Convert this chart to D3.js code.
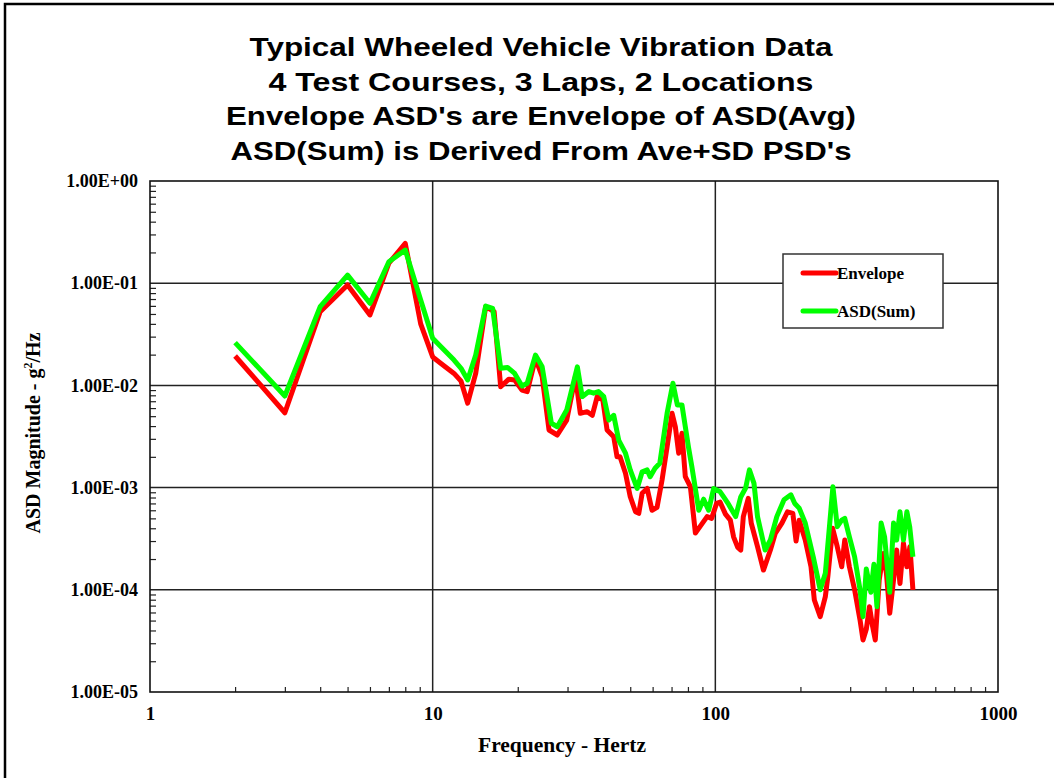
<!DOCTYPE html>
<html>
<head>
<meta charset="utf-8">
<script src="https://cdn.jsdelivr.net/npm/d3@7"></script>
<style>
  html, body { margin: 0; padding: 0; background: #fff; }
  svg { display: block; }
</style>
</head>
<body>
<svg id="chart" width="1054" height="778"></svg>
<script>
// Title lines
const titleLines = [
  "Typical Wheeled Vehicle Vibration Data",
  "4 Test Courses, 3 Laps, 2 Locations",
  "Envelope ASD's are Envelope of ASD(Avg)",
  "ASD(Sum) is Derived From Ave+SD PSD's"
];

// Axis ticks
const xTicks = [1, 10, 100, 1000];
const yTicks = [1, 1e-1, 1e-2, 1e-3, 1e-4, 1e-5];

// Envelope ASD (g^2/Hz) vs frequency (Hz)
const envFreq = [2, 3, 4, 5, 6, 7, 8, 9.07, 10, 10.7, 11.9, 12.6, 13.3, 14.2, 15.4, 16.5, 17.4, 18.6, 19.5, 20.7, 21.6, 23.1, 24.4, 25.8, 27.6, 29.8, 32, 33.3, 35.2, 36.7, 38.2, 40, 41.4, 43.7, 44.9, 46, 48.1, 50, 52.2, 53.6, 55.1, 57.4, 59.7, 62.2, 64.8, 67.5, 70.3, 72.2, 74.2, 76.2, 78.3, 81.6, 85, 88.5, 93.5, 97, 101, 104, 108.6, 113, 116, 120, 123, 125.6, 130.8, 134, 141, 148, 156.6, 163, 172, 180, 188, 193, 198, 208, 218, 224, 235, 245, 250, 260, 270, 280, 287, 298, 311, 325, 333, 342, 351, 360, 368, 380, 393, 403, 414, 427, 438, 450, 463, 476, 488, 500];
const envVal = [0.0194, 0.0054, 0.0526, 0.096, 0.0489, 0.157, 0.245, 0.040, 0.0190, 0.0164, 0.0131, 0.0110, 0.0067, 0.0131, 0.0589, 0.0526, 0.0097, 0.0115, 0.0113, 0.0090, 0.0087, 0.0184, 0.0122, 0.00366, 0.00327, 0.00458, 0.0122, 0.00533, 0.00553, 0.0051, 0.00776, 0.0072, 0.00366, 0.00315, 0.0020, 0.0020, 0.00138, 0.000815, 0.00058, 0.00056, 0.00088, 0.00098, 0.0006, 0.00064, 0.00119, 0.00251, 0.00533, 0.00394, 0.00217, 0.0034, 0.00128, 0.00102, 0.00036, 0.00042, 0.00052, 0.0005, 0.0007, 0.00072, 0.00055, 0.00048, 0.00033, 0.00026, 0.000245, 0.00052, 0.000785, 0.000448, 0.000264, 0.000156, 0.000245, 0.000357, 0.00045, 0.00058, 0.00056, 0.0003, 0.00048, 0.000307, 0.000168, 0.0000794, 0.0000546, 0.0000857, 0.000134, 0.0004, 0.000264, 0.000168, 0.000307, 0.000168, 0.0001, 0.0000507, 0.0000323, 0.000041, 0.0000684, 0.000044, 0.0000323, 0.000125, 0.000227, 0.000145, 0.0000589, 0.000125, 0.000245, 0.000115, 0.000285, 0.000168, 0.000264, 0.0001];

// ASD(Sum) (g^2/Hz) vs frequency (Hz)
const sumFreq = [2, 3, 4, 5, 6, 7, 8, 9.07, 10, 10.7, 11.9, 12.6, 13.3, 14.2, 15.4, 16.3, 17.4, 18.4, 19.5, 20.7, 21.6, 23.1, 24.4, 26.3, 27.6, 29.8, 32.5, 33.8, 35.7, 37.1, 38.6, 40.3, 42, 43.7, 45.5, 48.1, 50, 52.9, 55.1, 57.4, 58.8, 61.2, 63.6, 67.5, 70.8, 73.4, 76.2, 78.3, 80.3, 82.6, 87.4, 90.9, 94.7, 98.6, 104, 107, 111.6, 118, 123, 128, 132, 137, 141, 150, 156.6, 165, 175, 185, 191, 198, 208, 222, 235, 245, 254, 260.6, 270, 280, 287, 298, 311, 325, 333, 342, 355, 364, 373, 386, 397, 414, 427, 438, 450, 463, 476, 487, 500];
const sumVal = [0.0262, 0.00787, 0.0589, 0.120, 0.0636, 0.162, 0.211, 0.0685, 0.0289, 0.0239, 0.0177, 0.0147, 0.0113, 0.0198, 0.0598, 0.0568, 0.0147, 0.0150, 0.0131, 0.00986, 0.0105, 0.0198, 0.0152, 0.00426, 0.00394, 0.00574, 0.0152, 0.00776, 0.0087, 0.0084, 0.0087, 0.00776, 0.00458, 0.0051, 0.00292, 0.00217, 0.00149, 0.00098, 0.00143, 0.00149, 0.00128, 0.00155, 0.00173, 0.00533, 0.0105, 0.00643, 0.00643, 0.00394, 0.00251, 0.0016, 0.0006, 0.00077, 0.0006, 0.00098, 0.00091, 0.00081, 0.00068, 0.00052, 0.00081, 0.00099, 0.00149, 0.0011, 0.00052, 0.000245, 0.000307, 0.00052, 0.00076, 0.00085, 0.0007, 0.00063, 0.00045, 0.00021, 0.0001, 0.000145, 0.00045, 0.00102, 0.000415, 0.00048, 0.0005, 0.00033, 0.00021, 0.0001, 0.0000546, 0.00016, 0.0000945, 0.000178, 0.0000684, 0.00045, 0.00033, 0.0000945, 0.00045, 0.000307, 0.00058, 0.000307, 0.00058, 0.000415, 0.00021];

const seriesNames = ["Envelope", "ASD(Sum)"];
const seriesColors = ["#ff0000", "#00ff00"];

const svg = d3.select("#chart");
const serif = "'Liberation Serif', 'Times New Roman', serif";
const sans = "'Liberation Sans', Arial, sans-serif";

// outer frame
svg.append("rect")
  .attr("x", 5).attr("y", 4).attr("width", 1200).attr("height", 900)
  .attr("fill", "none").attr("stroke", "#000").attr("stroke-width", 2.5);

// titles
const titleWidths = [583, 545, 630, 621];
svg.append("g").selectAll("text").data(titleLines).join("text")
  .attr("x", 541)
  .attr("y", (d, i) => 56 + i * 34.5)
  .attr("text-anchor", "middle")
  .attr("font-family", sans)
  .attr("font-weight", "bold")
  .attr("font-size", 26)
  .attr("fill", "#000")
  .attr("textLength", (d, i) => titleWidths[i])
  .attr("lengthAdjust", "spacingAndGlyphs")
  .text(d => d);

const plotLeft = 150, plotRight = 998, plotTop = 181, plotBottom = 692;
const x = d3.scaleLog().domain([1, 1000]).range([plotLeft, plotRight]);
const y = d3.scaleLog().domain([1e-5, 1]).range([plotBottom, plotTop]);

// minor tick values
const minorX = [];
for (let e = 0; e < 3; e++) for (let m = 2; m <= 9; m++) minorX.push(m * Math.pow(10, e));
const minorY = [];
for (let e = -5; e < 0; e++) for (let m = 2; m <= 9; m++) minorY.push(m * Math.pow(10, e));

// grid lines
const grid = svg.append("g").attr("stroke", "#222").attr("stroke-width", 1.5);
grid.selectAll("line.gx").data(xTicks.slice(1, -1)).join("line")
  .attr("x1", d => x(d)).attr("x2", d => x(d)).attr("y1", plotTop).attr("y2", plotBottom);
grid.selectAll("line.gy").data(yTicks.slice(1, -1)).join("line")
  .attr("x1", plotLeft).attr("x2", plotRight).attr("y1", d => y(d)).attr("y2", d => y(d));

// minor ticks (inward)
svg.append("g").attr("transform", `translate(0,${plotBottom})`)
  .call(d3.axisBottom(x).tickValues(minorX).tickSize(-5).tickFormat(""))
  .call(g => g.select(".domain").remove())
  .call(g => g.selectAll("line").attr("stroke", "#222").attr("stroke-width", 1.2));
svg.append("g").attr("transform", `translate(${plotLeft},0)`)
  .call(d3.axisLeft(y).tickValues(minorY).tickSize(-6).tickFormat(""))
  .call(g => g.select(".domain").remove())
  .call(g => g.selectAll("line").attr("stroke", "#222").attr("stroke-width", 1.2));

// plot border
svg.append("rect")
  .attr("x", plotLeft).attr("y", plotTop)
  .attr("width", plotRight - plotLeft).attr("height", plotBottom - plotTop)
  .attr("fill", "none").attr("stroke", "#111").attr("stroke-width", 1.6);

// tick labels
const fmtY = v => {
  const e = Math.round(Math.log10(v));
  return "1.00E" + (e >= 0 ? "+" : "-") + String(Math.abs(e)).padStart(2, "0");
};
svg.append("g").attr("transform", `translate(${plotLeft},0)`)
  .call(d3.axisLeft(y).tickValues(yTicks).tickSize(0).tickPadding(12).tickFormat(fmtY))
  .call(g => g.select(".domain").remove())
  .call(g => g.selectAll("text")
    .attr("font-family", serif).attr("font-weight", "bold").attr("font-size", 18).attr("fill", "#000"));
svg.append("g").attr("transform", `translate(0,${plotBottom})`)
  .call(d3.axisBottom(x).tickValues(xTicks).tickSize(0).tickPadding(15).tickFormat(d3.format("d")))
  .call(g => g.select(".domain").remove())
  .call(g => g.selectAll("text")
    .attr("font-family", serif).attr("font-weight", "bold").attr("font-size", 19).attr("fill", "#000"));

// axis titles
svg.append("text")
  .attr("x", 562).attr("y", 752)
  .attr("text-anchor", "middle")
  .attr("font-family", serif).attr("font-weight", "bold").attr("font-size", 21)
  .attr("textLength", 168).attr("lengthAdjust", "spacingAndGlyphs")
  .text("Frequency - Hertz");

const yt = svg.append("text")
  .attr("transform", "translate(40,433) rotate(-90)")
  .attr("text-anchor", "middle")
  .attr("font-family", serif).attr("font-weight", "bold").attr("font-size", 20);
yt.append("tspan").text("ASD Magnitude - g");
yt.append("tspan").attr("font-size", 12).attr("dy", -8).text("2");
yt.append("tspan").attr("dy", 8).text("/Hz");

// data lines
const line = d3.line().x(d => x(d[0])).y(d => y(d[1])).curve(d3.curveLinear);
const series = [
  d3.zip(envFreq, envVal),
  d3.zip(sumFreq, sumVal)
];
svg.append("g").selectAll("path").data(series).join("path")
  .attr("d", line)
  .attr("fill", "none")
  .attr("stroke", (d, i) => seriesColors[i])
  .attr("stroke-width", 5)
  .attr("stroke-linejoin", "round");

// legend
const lg = svg.append("g");
lg.append("rect")
  .attr("x", 783).attr("y", 254).attr("width", 160).attr("height", 74)
  .attr("fill", "#fff").attr("stroke", "#333").attr("stroke-width", 1.5);
const items = lg.selectAll("g.item").data(seriesNames).join("g")
  .attr("transform", (d, i) => `translate(0,${273 + i * 38})`);
items.append("line")
  .attr("x1", 803).attr("x2", 836).attr("y1", 0).attr("y2", 0)
  .attr("stroke", (d, i) => seriesColors[i]).attr("stroke-width", 5)
  .attr("stroke-linecap", "round");
items.append("text")
  .attr("x", 837).attr("y", 6)
  .attr("font-family", serif).attr("font-weight", "bold").attr("font-size", 17)
  .text(d => d);
</script>
</body>
</html>
